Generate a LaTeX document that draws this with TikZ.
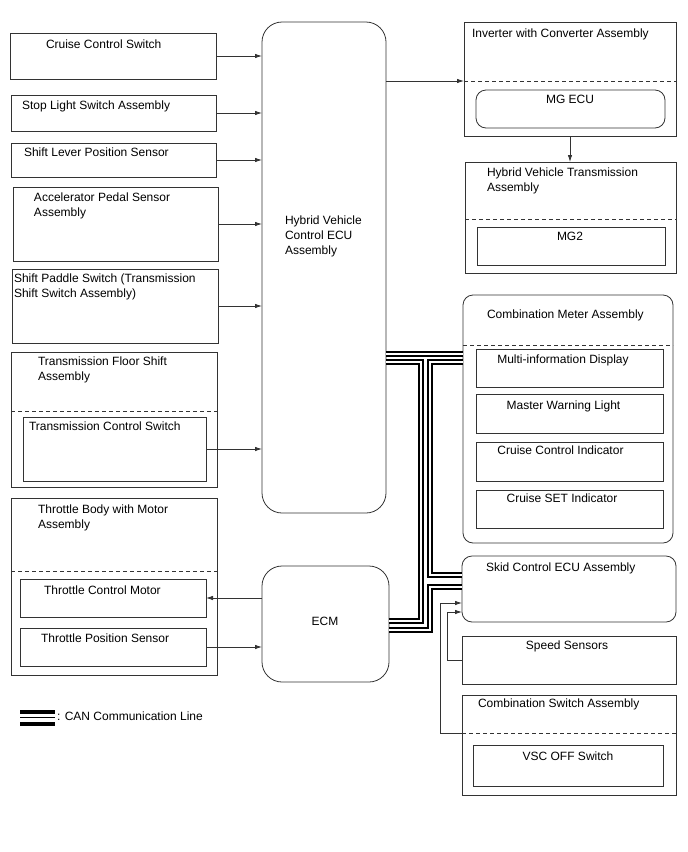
\documentclass[tikz,border=0pt]{standalone}
\usepackage{fontspec}
\setmainfont{Liberation Sans}
\usetikzlibrary{arrows.meta}

\begin{document}
\begin{tikzpicture}[x=1pt,y=-1pt,>={Latex[length=7pt,width=4.5pt]}]
\tikzstyle{every node}=[inner sep=0pt,outer sep=0pt,font=\fontsize{12}{15}\selectfont];
\tikzstyle{box}=[draw=black!80,line width=0.8pt,anchor=north west,rectangle];
\tikzstyle{rbox}=[box,rounded corners=10pt];
\tikzstyle{txt}=[anchor=north west,align=left];
\tikzstyle{ctxt}=[anchor=north,align=center];
\tikzstyle{divider}=[draw=black!80,line width=0.8pt,dash pattern=on 4pt off 3pt];
\tikzstyle{sig}=[draw=black!80,line width=0.8pt,->];
\tikzstyle{can}=[draw=black,line width=2.2pt,double=white,double distance=1.4pt];
\useasboundingbox (0,0) rectangle (688,852);
\path (10,33) node[box,minimum width=206,minimum height=46] (cruise) {};
\path (11,95) node[box,minimum width=205,minimum height=36] (stoplight) {};
\path (11,143) node[box,minimum width=205,minimum height=34] (shiftlever) {};
\path (13,187) node[box,minimum width=205,minimum height=74] (accel) {};
\path (12,269) node[box,minimum width=206,minimum height=74] (paddle) {};
\path (11,352) node[box,minimum width=206,minimum height=135] (floorshift) {};
\path (23,417) node[box,minimum width=183,minimum height=64] (tcswitch) {};
\path (11,498) node[box,minimum width=206,minimum height=177] (throttlebody) {};
\path (20,579) node[box,minimum width=186,minimum height=38] (tcmotor) {};
\path (20,628) node[box,minimum width=186,minimum height=38] (tpsensor) {};
\path (262,22) node[rbox,rounded corners=20pt,minimum width=124,minimum height=491] (hvecu) {};
\path (262,566) node[rbox,rounded corners=20pt,minimum width=127,minimum height=116] (ecm) {};
\path (464,22) node[box,minimum width=212,minimum height=114] (inverter) {};
\path (476,90) node[rbox,minimum width=189,minimum height=38] (mgecu) {};
\path (465,162) node[box,minimum width=211,minimum height=111] (hvtrans) {};
\path (477,227) node[box,minimum width=188,minimum height=38] (mgtwo) {};
\path (463,295) node[rbox,minimum width=210,minimum height=248] (combmeter) {};
\path (476,349) node[box,minimum width=187,minimum height=38] (mid) {};
\path (476,394) node[box,minimum width=187,minimum height=39] (mwl) {};
\path (476,442) node[box,minimum width=187,minimum height=39] (cci) {};
\path (476,490) node[box,minimum width=187,minimum height=38] (csi) {};
\path (462,556) node[rbox,minimum width=214,minimum height=66] (skid) {};
\path (462,636) node[box,minimum width=214,minimum height=48] (speed) {};
\path (462,695) node[box,minimum width=214,minimum height=100] (combswitch) {};
\path (473,745) node[box,minimum width=190,minimum height=41] (vsc) {};
\path (46,39.5) node[txt] (cruise-l) {Cruise Control Switch};
\path (22,100.5) node[txt] (stoplight-l) {Stop Light Switch Assembly};
\path (24,147.5) node[txt] (shiftlever-l) {Shift Lever Position Sensor};
\path (34,192.5) node[txt] (accel-l) {Accelerator Pedal Sensor\\Assembly};
\path (14,273.5) node[txt] (paddle-l) {Shift Paddle Switch (Transmission\\Shift Switch Assembly)};
\path (38,356.5) node[txt] (floorshift-l) {Transmission Floor Shift\\Assembly};
\path (29,421.5) node[txt] (tcswitch-l) {Transmission Control Switch};
\path (38,504.5) node[txt] (throttlebody-l) {Throttle Body with Motor\\Assembly};
\path (44,585.5) node[txt] (tcmotor-l) {Throttle Control Motor};
\path (41,633.5) node[txt] (tpsensor-l) {Throttle Position Sensor};
\path (285,215.5) node[txt] (hvecu-l) {Hybrid Vehicle\\Control ECU\\Assembly};
\path (325,617.5) node[ctxt] (ecm-l) {ECM};
\path (472,28.5) node[txt] (inverter-l) {Inverter with Converter Assembly};
\path (570,95.5) node[ctxt] (mgecu-l) {MG ECU};
\path (487,167.5) node[txt] (hvtrans-l) {Hybrid Vehicle Transmission\\Assembly};
\path (570,232.5) node[ctxt] (mgtwo-l) {MG2};
\path (487,310) node[txt] (combmeter-l) {Combination Meter Assembly};
\path (563,354.5) node[ctxt] (mid-l) {Multi-information Display};
\path (563.5,400.5) node[ctxt] (mwl-l) {Master Warning Light};
\path (560.5,445.5) node[ctxt] (cci-l) {Cruise Control Indicator};
\path (562,493.5) node[ctxt] (csi-l) {Cruise SET Indicator};
\path (486,562.5) node[txt] (skid-l) {Skid Control ECU Assembly};
\path (567,640.5) node[ctxt] (speed-l) {Speed Sensors};
\path (478,698.5) node[txt] (combswitch-l) {Combination Switch Assembly};
\path (568,751.5) node[ctxt] (vsc-l) {VSC OFF Switch};
\path (57,711.5) node[txt] (legend-l) {: CAN Communication Line};
\path (11,411) coordinate (floordiv) (11,571) coordinate (throttlediv)
  (464,81) coordinate (invdiv) (465,219) coordinate (hvtransdiv)
  (463,345) coordinate (meterdiv) (462,733) coordinate (switchdiv);
\draw[divider] (floordiv) -- (floordiv -| floorshift.east);
\draw[divider] (throttlediv) -- (throttlediv -| throttlebody.east);
\draw[divider] (invdiv) -- (invdiv -| inverter.east);
\draw[divider] (hvtransdiv) -- (hvtransdiv -| hvtrans.east);
\draw[divider] (meterdiv) -- (meterdiv -| combmeter.east);
\draw[divider] (switchdiv) -- (switchdiv -| combswitch.east);
\draw[sig] (cruise.east) -- (cruise.east -| hvecu.west);
\draw[sig] (stoplight.east) -- (stoplight.east -| hvecu.west);
\draw[sig] (shiftlever.east) -- (shiftlever.east -| hvecu.west);
\draw[sig] (accel.east) -- (accel.east -| hvecu.west);
\draw[sig] (paddle.east) -- (paddle.east -| hvecu.west);
\draw[sig] (tcswitch.east) -- (tcswitch.east -| hvecu.west);
\draw[sig] (tcmotor.east -| ecm.west) -- (tcmotor.east);
\draw[sig] (tpsensor.east) -- (tpsensor.east -| ecm.west);
\draw[sig] (invdiv -| hvecu.east) -- (invdiv);
\draw[sig] (inverter.south) -- (inverter.south |- hvtrans.north);
\path (0,603) coordinate (skidinA) (0,612) coordinate (skidinB);
\draw[sig] (switchdiv) -- ++(-22,0) |- (skidinA -| skid.west);
\draw[sig] (speed.west) -- ++(-15,0) |- (skidinB -| skid.west);
\path (0,354) coordinate (canA) (421,362) coordinate (canL) (430,362) coordinate (canR)
  (0,575) coordinate (canskidA) (0,587) coordinate (canskidB)
  (0,621) coordinate (canecmA) (0,630) coordinate (canecmB);
\draw[can] (canA -| hvecu.east) -- (canA -| combmeter.west);
\draw[can] (canL -| hvecu.east) -- (canL) |- (canecmA -| ecm.east);
\draw[can] (canR -| combmeter.west) -- (canR) |- (canskidA -| skid.west);
\draw[can] (canskidB -| skid.west) -| (canecmB -| canR) -- (canecmB -| ecm.east);
\path (20,712) coordinate (lgA) (55,712) coordinate (lgB) (20,724) coordinate (lgC)
  (55,724) coordinate (lgD) (20,717.5) coordinate (lgE) (55,717.5) coordinate (lgF);
\draw[black,line width=4pt] (lgA) -- (lgB);
\draw[black,line width=4pt] (lgC) -- (lgD);
\draw[black,line width=1pt] (lgE) -- (lgF);
\end{tikzpicture}
\end{document}
